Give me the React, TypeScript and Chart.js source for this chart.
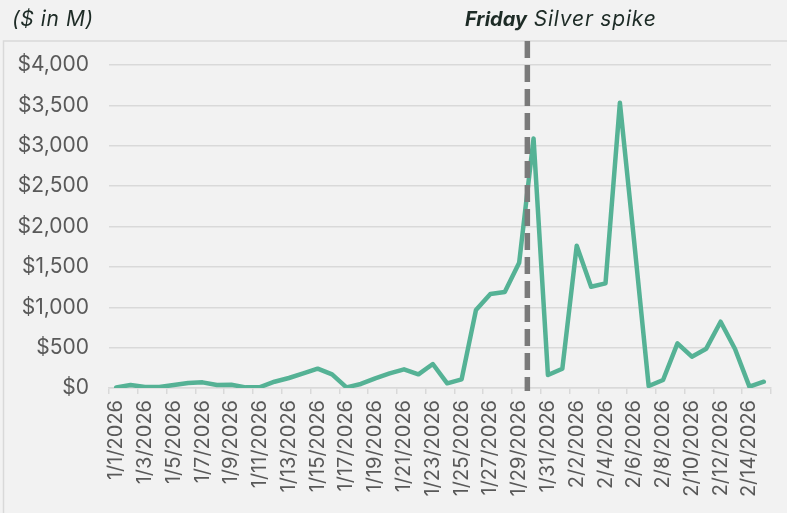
import React, { useEffect, useRef } from 'react';
import { Chart, registerables } from 'chart.js';

Chart.register(...registerables);

const dates = [
  '1/1/2026', '1/2/2026', '1/3/2026', '1/4/2026', '1/5/2026', '1/6/2026', '1/7/2026', '1/8/2026',
  '1/9/2026', '1/10/2026', '1/11/2026', '1/12/2026', '1/13/2026', '1/14/2026', '1/15/2026', '1/16/2026',
  '1/17/2026', '1/18/2026', '1/19/2026', '1/20/2026', '1/21/2026', '1/22/2026', '1/23/2026', '1/24/2026',
  '1/25/2026', '1/26/2026', '1/27/2026', '1/28/2026', '1/29/2026', '1/30/2026', '1/31/2026',
  '2/1/2026', '2/2/2026', '2/3/2026', '2/4/2026', '2/5/2026', '2/6/2026', '2/7/2026', '2/8/2026',
  '2/9/2026', '2/10/2026', '2/11/2026', '2/12/2026', '2/13/2026', '2/14/2026', '2/15/2026',
];

const volumes = [
  8, 37, 12, 12, 37, 62, 70, 37, 40, 8,
  12, 78, 124, 181, 239, 169, 8, 50, 120, 181,
  231, 169, 297, 58, 107, 965, 1163, 1188, 1551, 3090,
  161, 239, 1762, 1254, 1296, 3532, 1800, 25, 99, 553,
  388, 487, 821, 483, 17, 78,
];

const yMin = 0;
const yMax = 4000;
const yStep = 500;

const unitLabel = '($ in M)';
const eventBold = 'Friday';
const eventText = ' Silver spike';
const eventDate = '1/30/2026';

const BG = '#f2f2f2';
const GRID = '#d9d9d9';
const TICK_COLOR = '#595959';
const LINE_COLOR = '#55b295';
const TEXT_DARK = '#1d2b26';
const FONT = 'Inter, "Noto Sans", sans-serif';

export default function App() {
  const canvasRef = useRef<HTMLCanvasElement | null>(null);

  useEffect(() => {
    const canvas = canvasRef.current;
    if (!canvas) return;

    const bgPlugin = {
      id: 'bgPlugin',
      beforeDraw(chart: any) {
        const { ctx, width, height } = chart;
        ctx.save();
        ctx.fillStyle = BG;
        ctx.fillRect(0, 0, width, height);
        ctx.strokeStyle = GRID;
        ctx.lineWidth = 1.5;
        ctx.strokeRect(3.5, 41, width + 20, height + 20);
        ctx.restore();
      },
    };

    const spikePlugin = {
      id: 'spikePlugin',
      afterDatasetsDraw(chart: any) {
        const { ctx } = chart;
        const xs = chart.scales.x;
        const idx = dates.indexOf(eventDate);
        const x = xs.getPixelForValue(idx - 0.5) + 1;
        ctx.save();
        ctx.strokeStyle = '#7a7a7a';
        ctx.lineWidth = 5.5;
        ctx.setLineDash([17, 7]);
        ctx.beginPath();
        ctx.moveTo(x, 41);
        ctx.lineTo(x, chart.chartArea.bottom + 3);
        ctx.stroke();
        ctx.restore();
      },
      afterDraw(chart: any) {
        const { ctx } = chart;
        ctx.save();
        ctx.fillStyle = TEXT_DARK;
        ctx.textBaseline = 'alphabetic';
        ctx.textAlign = 'left';
        try { (ctx as any).letterSpacing = '0.6px'; } catch (e) {}
        ctx.font = `italic 21px ${FONT}`;
        ctx.fillText(unitLabel, 12, 26);
        try { (ctx as any).letterSpacing = '0px'; } catch (e) {}
        ctx.font = `italic bold 20px ${FONT}`;
        const bx = 465;
        ctx.fillText(eventBold, bx, 26);
        const w = ctx.measureText(eventBold).width;
        try { (ctx as any).letterSpacing = '0.8px'; } catch (e) {}
        ctx.font = `italic 21px ${FONT}`;
        ctx.fillText(eventText, bx + w, 26);
        ctx.restore();
      },
    };

    const chart = new Chart(canvas, {
      type: 'line',
      data: {
        labels: dates,
        datasets: [
          {
            data: volumes,
            borderColor: LINE_COLOR,
            borderWidth: 4.5,
            pointRadius: 0,
            pointHoverRadius: 0,
            tension: 0,
            fill: false,
            borderJoinStyle: 'round',
            borderCapStyle: 'round',
          },
        ],
      },
      options: {
        animation: false,
        responsive: true,
        maintainAspectRatio: false,
        layout: { padding: { top: 65, right: 16, left: 0, bottom: 0 } },
        plugins: {
          legend: { display: false },
          tooltip: { enabled: false },
          title: { display: false },
        },
        scales: {
          x: {
            type: 'category',
            offset: true,
            grid: {
              offset: true,
              drawOnChartArea: false,
              drawTicks: true,
              tickLength: 6,
              lineWidth: 1.5,
              color: (ctx: any) => {
                if (ctx.type !== 'tick') return GRID;
                return ctx.index % 2 === 0 ? GRID : 'rgba(0,0,0,0)';
              },
            },
            border: { display: true, color: GRID, width: 1.5 },
            ticks: {
              autoSkip: false,
              maxRotation: 90,
              minRotation: 90,
              padding: 6,
              color: TICK_COLOR,
              font: { family: FONT, size: 20 },
              callback: (_v: any, i: number) => (i % 2 === 0 ? dates[i] : ''),
            },
            afterFit: (scale: any) => {
              scale.height = 125;
              scale.paddingLeft = 0;
              scale.paddingRight = 0;
            },
          },
          y: {
            min: yMin,
            max: yMax,
            grid: {
              drawTicks: false,
              color: GRID,
              lineWidth: 1.5,
            },
            border: { display: false },
            ticks: {
              stepSize: yStep,
              padding: 20,
              color: TICK_COLOR,
              font: { family: FONT, size: 21 },
              callback: (v: any) => '$' + Number(v).toLocaleString('en-US'),
            },
            afterFit: (scale: any) => {
              scale.width = 109;
              scale.paddingTop = 0;
              scale.paddingBottom = 0;
            },
          },
        },
      },
      plugins: [bgPlugin, spikePlugin],
    });

    return () => chart.destroy();
  }, []);

  return (
    <div style={{ position: 'fixed', left: 0, top: 0, width: 787, height: 513, background: BG }}>
      <canvas ref={canvasRef} />
    </div>
  );
}
